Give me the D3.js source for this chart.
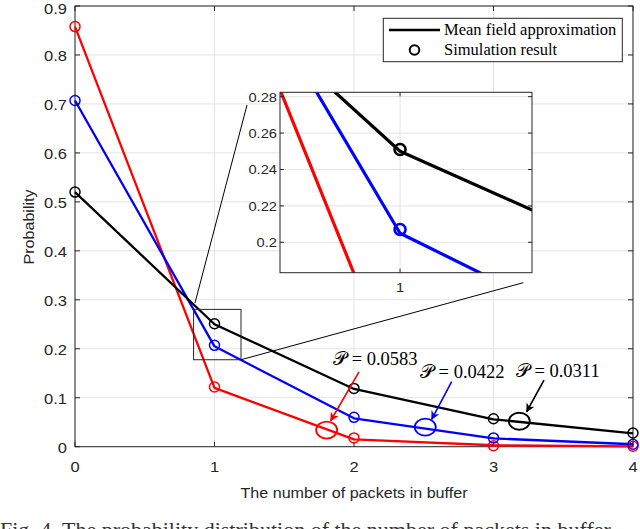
<!DOCTYPE html>
<html><head><meta charset="utf-8">
<script src="https://cdn.jsdelivr.net/npm/d3@7"></script>
<style>
html,body{margin:0;padding:0;background:#fff;overflow:hidden}
svg{display:block}
</style></head>
<body>
<script>
// ---------- data ----------
const xValues = [0, 1, 2, 3, 4];
const xTicks = [0, 1, 2, 3, 4];
const yTicks = [0, 0.1, 0.2, 0.3, 0.4, 0.5, 0.6, 0.7, 0.8, 0.9];
const insetYTicks = [0.2, 0.22, 0.24, 0.26, 0.28];
const insetXTicks = [1];
const seriesColors = ["#ff0000", "#0000ff", "#000000"];
const meanRed   = [0.858, 0.120, 0.015, 0.003, 0.0005];
const meanBlue  = [0.707, 0.205, 0.058, 0.017, 0.005];
const meanBlack = [0.520, 0.250, 0.118, 0.056, 0.027];
const simRed    = [0.858, 0.122, 0.018, 0.002, 0.001];
const simBlue   = [0.707, 0.207, 0.060, 0.018, 0.005];
const simBlack  = [0.520, 0.251, 0.119, 0.057, 0.028];
const labelTexts = ["\u{1D4AB} = 0.0583", "\u{1D4AB} = 0.0422", "\u{1D4AB} = 0.0311"];
const legendLabels = ["Mean field approximation", "Simulation result"];
const xAxisTitle = "The number of packets in buffer";
const yAxisTitle = "Probability";
const captionText = "Fig. 4. The probability distribution of the number of packets in buffer";
// annotation anchors (data coordinates)
const ellipseCenters = [[1.804, 0.034], [2.511, 0.040], [3.185, 0.052]];
const arrowFrom = [[2.036, 0.153], [2.70, 0.133], [3.362, 0.136]];
const arrowTo   = [[1.833, 0.053], [2.557, 0.056], [3.238, 0.0715]];
const labelPos  = [[1.85, 0.167], [2.473, 0.140], [3.16, 0.142]];
const zoomBoxX = [0.85, 1.19];
const zoomBoxY = [0.1776, 0.2804];
const insetXDomain = [0.778, 1.244];
const insetYDomain = [0.1833, 0.2824];

const meanSeries = [meanRed, meanBlue, meanBlack];
const simSeries = [simRed, simBlue, simBlack];

// ---------- layout ----------
const W = 640, H = 529;
const svg = d3.select("body").append("svg").attr("width", W).attr("height", H);
const x = d3.scaleLinear().domain([0, 4]).range([75, 633]);
const y = d3.scaleLinear().domain([0, 0.9]).range([446.7, 6]);
const axisColor = "#262626";
const gridColor = "#e3e3e3";
const sans = "'Liberation Sans', Arial, Helvetica, sans-serif";
const serif = "'Liberation Serif', 'DejaVu Serif', serif";

function sText(parent, px, py, anchor, size, str, sx, rot) {
  return parent.append("text")
    .attr("transform", `translate(${px},${py})` + (rot ? ` rotate(${rot})` : "") + ` scale(${sx || 1},1)`)
    .attr("text-anchor", anchor).attr("font-family", sans).attr("font-size", size)
    .attr("fill", axisColor).text(str);
}

const defs = svg.append("defs");
seriesColors.forEach((c, i) => {
  defs.append("marker").attr("id", "ah" + i)
    .attr("viewBox", "0 0 10 10").attr("refX", 9).attr("refY", 5)
    .attr("markerWidth", 9).attr("markerHeight", 9).attr("markerUnits", "userSpaceOnUse")
    .attr("orient", "auto")
    .append("path").attr("d", "M0,0 L10,5 L0,10 L3,5 Z").attr("fill", c);
});

// grid
const g = svg.append("g");
g.selectAll(".gx").data(xTicks).join("line")
  .attr("x1", d => x(d)).attr("x2", d => x(d)).attr("y1", y(0)).attr("y2", y(0.9))
  .attr("stroke", gridColor).attr("stroke-width", 1);
g.selectAll(".gy").data(yTicks).join("line")
  .attr("x1", x(0)).attr("x2", x(4)).attr("y1", d => y(d)).attr("y2", d => y(d))
  .attr("stroke", gridColor).attr("stroke-width", 1);

// axes box + ticks (MATLAB style, inward)
const tl = 5;
const ax = svg.append("g");
ax.append("rect").attr("x", x(0)).attr("y", y(0.9)).attr("width", x(4) - x(0)).attr("height", y(0) - y(0.9))
  .attr("fill", "none").attr("stroke", axisColor).attr("stroke-width", 1);
xTicks.forEach(t => {
  ax.append("line").attr("x1", x(t)).attr("x2", x(t)).attr("y1", y(0)).attr("y2", y(0) - tl).attr("stroke", axisColor);
  ax.append("line").attr("x1", x(t)).attr("x2", x(t)).attr("y1", y(0.9)).attr("y2", y(0.9) + tl).attr("stroke", axisColor);
  sText(ax, x(t), 472, "middle", 15, t, 1.1);
});
yTicks.forEach(t => {
  ax.append("line").attr("x1", x(0)).attr("x2", x(0) + tl).attr("y1", y(t)).attr("y2", y(t)).attr("stroke", axisColor);
  ax.append("line").attr("x1", x(4)).attr("x2", x(4) - tl).attr("y1", y(t)).attr("y2", y(t)).attr("stroke", axisColor);
  sText(ax, 67, Math.max(y(t) + 6.5, 14), "end", 15, d3.format("~g")(t), 1.1);
});
sText(svg, (x(0) + x(4)) / 2, 498, "middle", 15.5, xAxisTitle, 1.04);
sText(svg, 34, 227, "middle", 15.5, yAxisTitle, 1.04, -90);

// lines
const line = d3.line().x((d, i) => x(xValues[i])).y(d => y(d));
meanSeries.forEach((s, k) => {
  svg.append("path").attr("d", line(s)).attr("fill", "none")
    .attr("stroke", seriesColors[k]).attr("stroke-width", 2.3).attr("stroke-linejoin", "round");
});
simSeries.forEach((s, k) => {
  svg.append("g").selectAll("circle").data(s).join("circle")
    .attr("cx", (d, i) => x(xValues[i])).attr("cy", d => y(d)).attr("r", 5)
    .attr("fill", "none").attr("stroke", seriesColors[k]).attr("stroke-width", 1.5);
});

// annotations
seriesColors.forEach((c, k) => {
  svg.append("ellipse").attr("cx", x(ellipseCenters[k][0])).attr("cy", y(ellipseCenters[k][1]))
    .attr("rx", 10.5).attr("ry", 8.5).attr("fill", "none").attr("stroke", c).attr("stroke-width", 1.8);
  svg.append("line").attr("x1", x(arrowFrom[k][0])).attr("y1", y(arrowFrom[k][1]))
    .attr("x2", x(arrowTo[k][0])).attr("y2", y(arrowTo[k][1]))
    .attr("stroke", c).attr("stroke-width", 1.6).attr("marker-end", `url(#ah${k})`);
  svg.append("text").attr("x", x(labelPos[k][0])).attr("y", y(labelPos[k][1]))
    .attr("font-family", serif).attr("font-size", 18.5).attr("fill", "#000")
    .text(labelTexts[k]);
});

// zoom box + connectors
svg.append("rect").attr("x", x(zoomBoxX[0])).attr("y", y(zoomBoxY[1]))
  .attr("width", x(zoomBoxX[1]) - x(zoomBoxX[0])).attr("height", y(zoomBoxY[0]) - y(zoomBoxY[1]))
  .attr("fill", "none").attr("stroke", axisColor).attr("stroke-width", 1);
const connectors = [[[0.86, 0.2935], [1.233, 0.6978]], [[1.19, 0.1776], [3.214, 0.335]]];
connectors.forEach(c => {
  svg.append("line").attr("x1", x(c[0][0])).attr("y1", y(c[0][1])).attr("x2", x(c[1][0])).attr("y2", y(c[1][1]))
    .attr("stroke", "#000").attr("stroke-width", 1);
});

// inset
const ix = d3.scaleLinear().domain(insetXDomain).range([280, 532]);
const iy = d3.scaleLinear().domain(insetYDomain).range([272.7, 92.3]);
const ig = svg.append("g");
ig.append("rect").attr("x", 280).attr("y", 92.3).attr("width", 252).attr("height", 180.4).attr("fill", "#fff");
defs.append("clipPath").attr("id", "iclip").append("rect").attr("x", 280).attr("y", 92.3).attr("width", 252).attr("height", 180.4);
insetYTicks.forEach(t => {
  ig.append("line").attr("x1", 280).attr("x2", 532).attr("y1", iy(t)).attr("y2", iy(t)).attr("stroke", gridColor);
});
insetXTicks.forEach(t => {
  ig.append("line").attr("x1", ix(t)).attr("x2", ix(t)).attr("y1", 92.3).attr("y2", 272.7).attr("stroke", gridColor);
});
const iline = d3.line().x((d, i) => ix(xValues[i])).y(d => iy(d));
const ic = ig.append("g").attr("clip-path", "url(#iclip)");
meanSeries.forEach((s, k) => {
  ic.append("path").attr("d", iline(s)).attr("fill", "none")
    .attr("stroke", seriesColors[k]).attr("stroke-width", 3.2).attr("stroke-linejoin", "round");
});
simSeries.forEach((s, k) => {
  ic.append("g").selectAll("circle").data(s).join("circle")
    .attr("cx", (d, i) => ix(xValues[i])).attr("cy", d => iy(d)).attr("r", 5.5)
    .attr("fill", "none").attr("stroke", seriesColors[k]).attr("stroke-width", 2.6);
});
ig.append("rect").attr("x", 280).attr("y", 92.3).attr("width", 252).attr("height", 180.4)
  .attr("fill", "none").attr("stroke", axisColor).attr("stroke-width", 1);
insetYTicks.forEach(t => {
  ig.append("line").attr("x1", 280).attr("x2", 284).attr("y1", iy(t)).attr("y2", iy(t)).attr("stroke", axisColor);
  ig.append("line").attr("x1", 532).attr("x2", 528).attr("y1", iy(t)).attr("y2", iy(t)).attr("stroke", axisColor);
  sText(ig, 277, iy(t) + 5, "end", 13, d3.format("~g")(t), 1.13);
});
insetXTicks.forEach(t => {
  ig.append("line").attr("x1", ix(t)).attr("x2", ix(t)).attr("y1", 272.7).attr("y2", 268.7).attr("stroke", axisColor);
  ig.append("line").attr("x1", ix(t)).attr("x2", ix(t)).attr("y1", 92.3).attr("y2", 96.3).attr("stroke", axisColor);
  sText(ig, ix(t), 291.5, "middle", 13, t, 1.13);
});

// legend
const lg = svg.append("g");
lg.append("rect").attr("x", 383.3).attr("y", 18.3).attr("width", 239).attr("height", 43.4)
  .attr("fill", "#fff").attr("stroke", axisColor).attr("stroke-width", 1);
lg.append("line").attr("x1", 389).attr("x2", 440).attr("y1", 30).attr("y2", 30).attr("stroke", "#000").attr("stroke-width", 2.3);
lg.append("circle").attr("cx", 414.5).attr("cy", 50).attr("r", 4.8).attr("fill", "none").attr("stroke", "#000").attr("stroke-width", 2);
lg.append("text").attr("x", 444).attr("y", 35).attr("font-family", serif).attr("font-size", 16.5).attr("fill", "#000").text(legendLabels[0]);
lg.append("text").attr("x", 444).attr("y", 54.5).attr("font-family", serif).attr("font-size", 16.5).attr("fill", "#000").text(legendLabels[1]);

// caption (cropped at page bottom, as in the reference)
svg.append("text").attr("x", 0).attr("y", 537).attr("font-family", serif).attr("font-size", 22).attr("fill", "#333")
  .text(captionText);
</script>
</body></html>
